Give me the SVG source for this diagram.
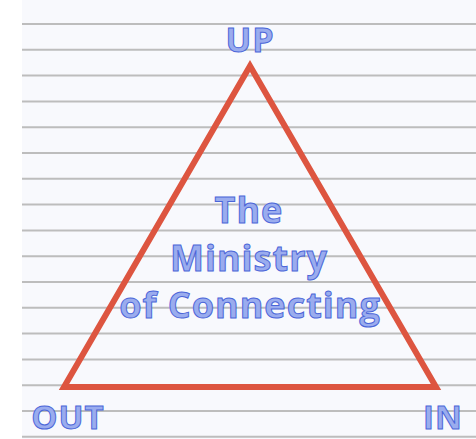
<svg xmlns="http://www.w3.org/2000/svg" width="476" height="439" viewBox="0 0 476 439">
<style>
.rule{stroke:#bdbdbd;stroke-width:2}
.lbl{font-family:"Open Sans","DejaVu Sans",sans-serif;font-weight:700;fill:#9aacee;stroke:#4b66d9;stroke-width:1;text-anchor:middle;letter-spacing:1px}
.tri{fill:none;stroke:#dd5540;stroke-width:6;stroke-linejoin:miter}
</style>
<rect x="0" y="0" width="476" height="439" fill="#ffffff"/>
<rect x="22" y="0" width="454" height="439" fill="#f8f9fd"/>
<g id="paper-lines">
<line class="rule" x1="22" y1="24" x2="476" y2="24"/>
<line class="rule" x1="22" y1="49.8" x2="476" y2="49.8"/>
<line class="rule" x1="22" y1="75.6" x2="476" y2="75.6"/>
<line class="rule" x1="22" y1="101.4" x2="476" y2="101.4"/>
<line class="rule" x1="22" y1="127.2" x2="476" y2="127.2"/>
<line class="rule" x1="22" y1="153" x2="476" y2="153"/>
<line class="rule" x1="22" y1="178.8" x2="476" y2="178.8"/>
<line class="rule" x1="22" y1="204.6" x2="476" y2="204.6"/>
<line class="rule" x1="22" y1="230.4" x2="476" y2="230.4"/>
<line class="rule" x1="22" y1="256.2" x2="476" y2="256.2"/>
<line class="rule" x1="22" y1="282" x2="476" y2="282"/>
<line class="rule" x1="22" y1="307.8" x2="476" y2="307.8"/>
<line class="rule" x1="22" y1="333.6" x2="476" y2="333.6"/>
<line class="rule" x1="22" y1="359.4" x2="476" y2="359.4"/>
<line class="rule" x1="22" y1="385.2" x2="476" y2="385.2"/>
<line class="rule" x1="22" y1="411" x2="476" y2="411"/>
<line class="rule" x1="22" y1="436.8" x2="476" y2="436.8"/>
</g>
<g id="connectors">
<polygon class="tri" points="250,66 64,387 436,387"/>
</g>
<g id="node-up"><text class="lbl" x="250" y="52" font-size="34">UP</text></g>
<g id="node-out"><text class="lbl" x="68" y="429" font-size="33">OUT</text></g>
<g id="node-in"><text class="lbl" x="443" y="429" font-size="33">IN</text></g>
<g id="node-center">
<text class="lbl" x="249" y="223" font-size="36">The</text>
<text class="lbl" x="249" y="271" font-size="36">Ministry</text>
<text class="lbl" x="250" y="318" font-size="36">of Connecting</text>
</g>
</svg>
